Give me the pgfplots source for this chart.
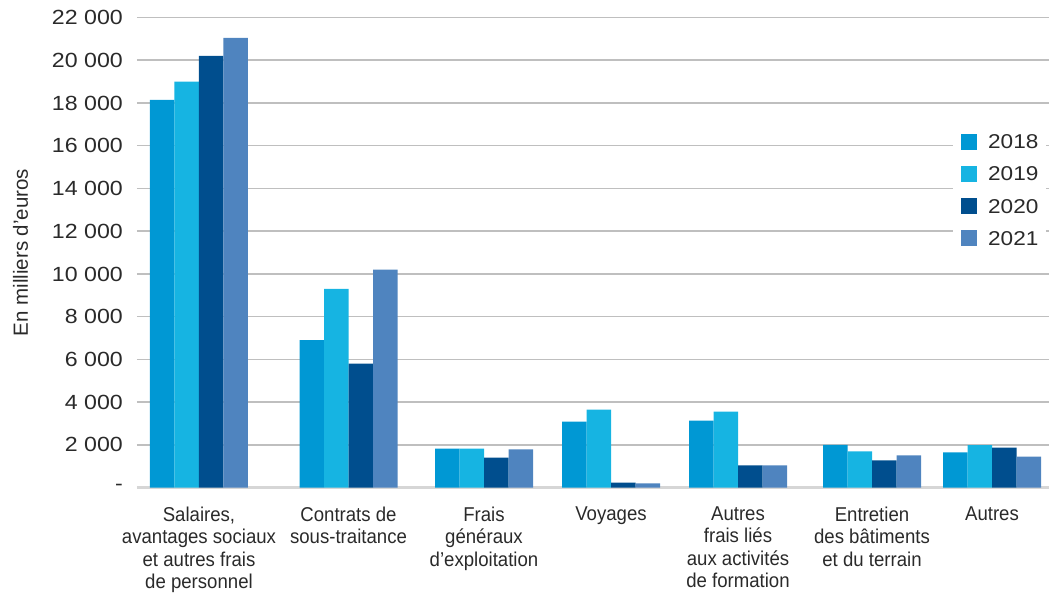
\documentclass[border=0pt]{standalone}
\usepackage{fontspec}
\setmainfont{Liberation Sans}
\newfontfamily\numfont[FakeStretch=1.13]{Liberation Sans}
\newfontfamily\catfont[FakeStretch=0.93]{Liberation Sans}
\usepackage{pgfplots}
\pgfplotsset{compat=1.18}

\definecolor{c18}{HTML}{0098D4}
\definecolor{c19}{HTML}{16B4E2}
\definecolor{c20}{HTML}{004E8E}
\definecolor{c21}{HTML}{4F84BF}
\definecolor{gridc}{HTML}{BFBFBF}
\definecolor{basec}{HTML}{D6D6D6}
\definecolor{textc}{HTML}{2A2A2A}

% x = centre of each expense group, y = amount in thousands of euros
\pgfplotstableread{
x      y
62     18150
211.5  6900
347    1820
474    3080
601    3130
735    1990
855    1640
}\ydixhuit
\pgfplotstableread{
x      y
62     19000
211.5  9300
347    1820
474    3650
601    3550
735    1690
855    1980
}\ydixneuf
\pgfplotstableread{
x      y
62     20200
211.5  5800
347    1400
474    230
601    1030
735    1270
855    1870
}\yvingt
\pgfplotstableread{
x      y
62     21050
211.5  10200
347    1780
474    190
601    1030
735    1500
855    1450
}\yvingtun

\begin{document}
\begin{tikzpicture}
\begin{axis}[
  scale only axis,
  width=912pt, height=470pt,
  xmin=0, xmax=912, ymin=0, ymax=22000,
  scaled y ticks=false,
  ybar=0pt, bar width=24.5,
  axis x line*=bottom, axis y line*=left,
  x axis line style={-, draw=basec, line width=3pt},
  y axis line style={draw=none},
  major tick length=0pt,
  ymajorgrids,
  grid style={draw=gridc, line width=1.5pt},
  ytick={0,2000,...,22000},
  yticklabels={-,2 000,4 000,6 000,8 000,10 000,12 000,14 000,16 000,18 000,20 000,22 000},
  xtick={62,211.5,347,474,601,735,855},
  xticklabels={
    {Salaires,\\avantages sociaux\\et autres frais\\de personnel},
    {Contrats de\\sous-traitance},
    {Frais\\généraux\\d’exploitation},
    {Voyages},
    {Autres\\frais liés\\aux activités\\de formation},
    {Entretien\\des bâtiments\\et du terrain},
    {Autres}},
  yticklabel style={font=\numfont\fontsize{20.5}{24}\selectfont, text=textc,
    anchor=east, inner sep=0pt, text depth=0pt, xshift=-14pt},
  xticklabel style={font=\catfont\fontsize{20}{22.5}\selectfont, text=textc,
    align=center, anchor=north, inner sep=0pt, yshift=-19pt},
  ylabel={En milliers d'euros},
  ylabel style={font=\fontsize{20.5}{24}\selectfont, text=textc,
    at={(axis description cs:-0.1195,0.5)}, anchor=south, inner sep=0pt, text depth=0pt},
  every axis plot post/.append style={
    legend image code/.code={\fill[##1] (0pt,-8pt) rectangle (16pt,8pt);}},
  legend cell align=left,
  legend style={at={(0.8947,0.7702)}, anchor=north west,
    draw=none, fill=white, inner sep=8pt,
    row sep=16.2pt, column sep=11pt,
    font=\numfont\fontsize{20}{24}\selectfont, text=textc,
    nodes={inner sep=0pt, text height=14pt, text depth=0pt}},
]
\addplot[fill=c18, draw=none] table[x=x, y=y] {\ydixhuit};
\addplot[fill=c19, draw=none] table[x=x, y=y] {\ydixneuf};
\addplot[fill=c20, draw=none] table[x=x, y=y] {\yvingt};
\addplot[fill=c21, draw=none] table[x=x, y=y] {\yvingtun};
\legend{2018,2019,2020,2021}
\end{axis}
\pgfresetboundingbox
\path (-137pt,-104.5pt) rectangle (912pt,487.5pt);
\end{tikzpicture}
\end{document}
